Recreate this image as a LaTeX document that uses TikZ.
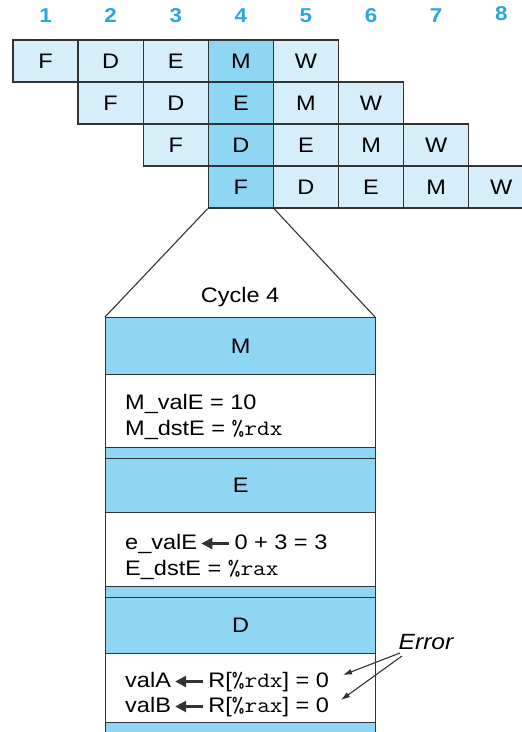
\documentclass[tikz,border=0pt]{standalone}
\usepackage{fontspec}
\setmainfont{Liberation Sans}[FakeStretch=1.12]
\setmonofont{Latin Modern Mono}[FakeStretch=1.12]
\usetikzlibrary{arrows.meta}
\definecolor{lb}{HTML}{D6EEFA}
\definecolor{db}{HTML}{8ED6F4}
\definecolor{num}{HTML}{2BA6DE}
\definecolor{ln}{HTML}{333333}
\newcommand\myarr{\hspace{3pt}\tikz[baseline=-5.5pt,x=1pt,y=1pt]\draw[ln,line width=2.4pt,-{Triangle[length=11pt,width=11pt]}] (28,0) -- (0,0);\hspace{4pt}}
\begin{document}
\begin{tikzpicture}[x=1pt,y=-1pt,
  cell/.style={draw=ln,line width=1.3pt,minimum width=65.1pt,minimum height=42pt,inner sep=0pt,font=\fontsize{21}{22}\selectfont},
  lightcell/.style={cell,fill=lb},
  darkcell/.style={cell,fill=db},
  colnum/.style={font=\fontsize{20}{20}\selectfont\bfseries,text=num},
  band/.style={draw=ln,line width=1.3pt,fill=db,minimum width=270pt,inner sep=0pt,anchor=north west},
  bodybox/.style={draw=ln,line width=1.3pt,fill=white,minimum width=270pt,inner sep=0pt,anchor=north west},
  boxtext/.style={font=\fontsize{21}{24}\selectfont,anchor=base west,inner sep=0pt},
  headtext/.style={font=\fontsize{21}{24}\selectfont},
  zoomline/.style={draw=ln,line width=1.1pt},
  errarrow/.style={draw=ln,line width=1.1pt,-{Latex[length=9pt,width=6pt]}}
]
\useasboundingbox (0,0) rectangle (522,732);
% column numbers
\foreach \c in {1,...,7}{
  \node[colnum] (n\c) at ({13+65.1*(\c-1)+32.55},16) {\c};
}
\node[colnum] (n8) at ({13+65.1*7+32.55},14) {8};
% pipeline cells
\foreach \r/\c/\t in {1/1/F,1/2/D,1/3/E,1/5/W,
                      2/2/F,2/3/D,2/5/M,2/6/W,
                      3/3/F,3/5/E,3/6/M,3/7/W,
                      4/5/D,4/6/E,4/7/M,4/8/W}{
  \node[lightcell] (c\r\c) at ({13+65.1*(\c-1)+32.55},{40+42*(\r-1)+21}) {\t};
}
\foreach \r/\t in {1/M,2/E,3/D,4/F}{
  \node[darkcell] (c\r4) at ({13+65.1*3+32.55},{40+42*(\r-1)+21}) {\t};
}
% zoom lines
\coordinate (bl) at (105,317);
\coordinate (br) at (375,317);
\draw[zoomline] (c44.south west) -- (bl);
\draw[zoomline] (c44.south east) -- (br);
\node[headtext] (cyc) at (240,297) {Cycle 4};
% expanded cycle box
\node[band,minimum height=57pt] (mhead) at (105,317) {};
\node[headtext] (mlab) at (mhead.center) {M};
\node[bodybox,minimum height=73pt] (mbody) at (105,374) {};
\node[band,minimum height=11pt] (mstrip) at (105,447) {};
\node[band,minimum height=54pt] (ehead) at (105,458) {};
\node[headtext] (elab) at (ehead.center) {E};
\node[bodybox,minimum height=74pt] (ebody) at (105,512) {};
\node[band,minimum height=11pt] (estrip) at (105,586) {};
\node[band,minimum height=56pt] (dhead) at (105,597) {};
\node[headtext] (dlab) at (dhead.center) {D};
\node[bodybox,minimum height=69pt] (dbody) at (105,653) {};
\node[band,minimum height=20pt] (dstrip) at (105,722) {};
% texts
\node[boxtext] (t1) at (125,409) {M\_valE = 10};
\node[boxtext] (t2) at (125,435) {M\_dstE = {\ttfamily\fontsize{22}{24}\selectfont\%rdx}};
\node[boxtext] (t3) at (125,549) {e\_valE\myarr 0 + 3 = 3};
\node[boxtext] (t4) at (125,575) {E\_dstE = {\ttfamily\fontsize{22}{24}\selectfont\%rax}};
\node[boxtext] (t5) at (125,687) {valA\myarr R[{\ttfamily\fontsize{22}{24}\selectfont\%rdx}] = 0};
\node[boxtext] (t6) at (125,712) {valB\myarr R[{\ttfamily\fontsize{22}{24}\selectfont\%rax}] = 0};
% error
\node[font=\fontsize{22}{24}\selectfont\itshape] (err) at (426,642) {Error};
\coordinate (e1) at (400,653);
\coordinate (e2) at (402,656);
\coordinate (a1) at (343,675);
\coordinate (a2) at (341,700);
\draw[errarrow] (e1) -- (a1);
\draw[errarrow] (e2) -- (a2);
\end{tikzpicture}
\end{document}
